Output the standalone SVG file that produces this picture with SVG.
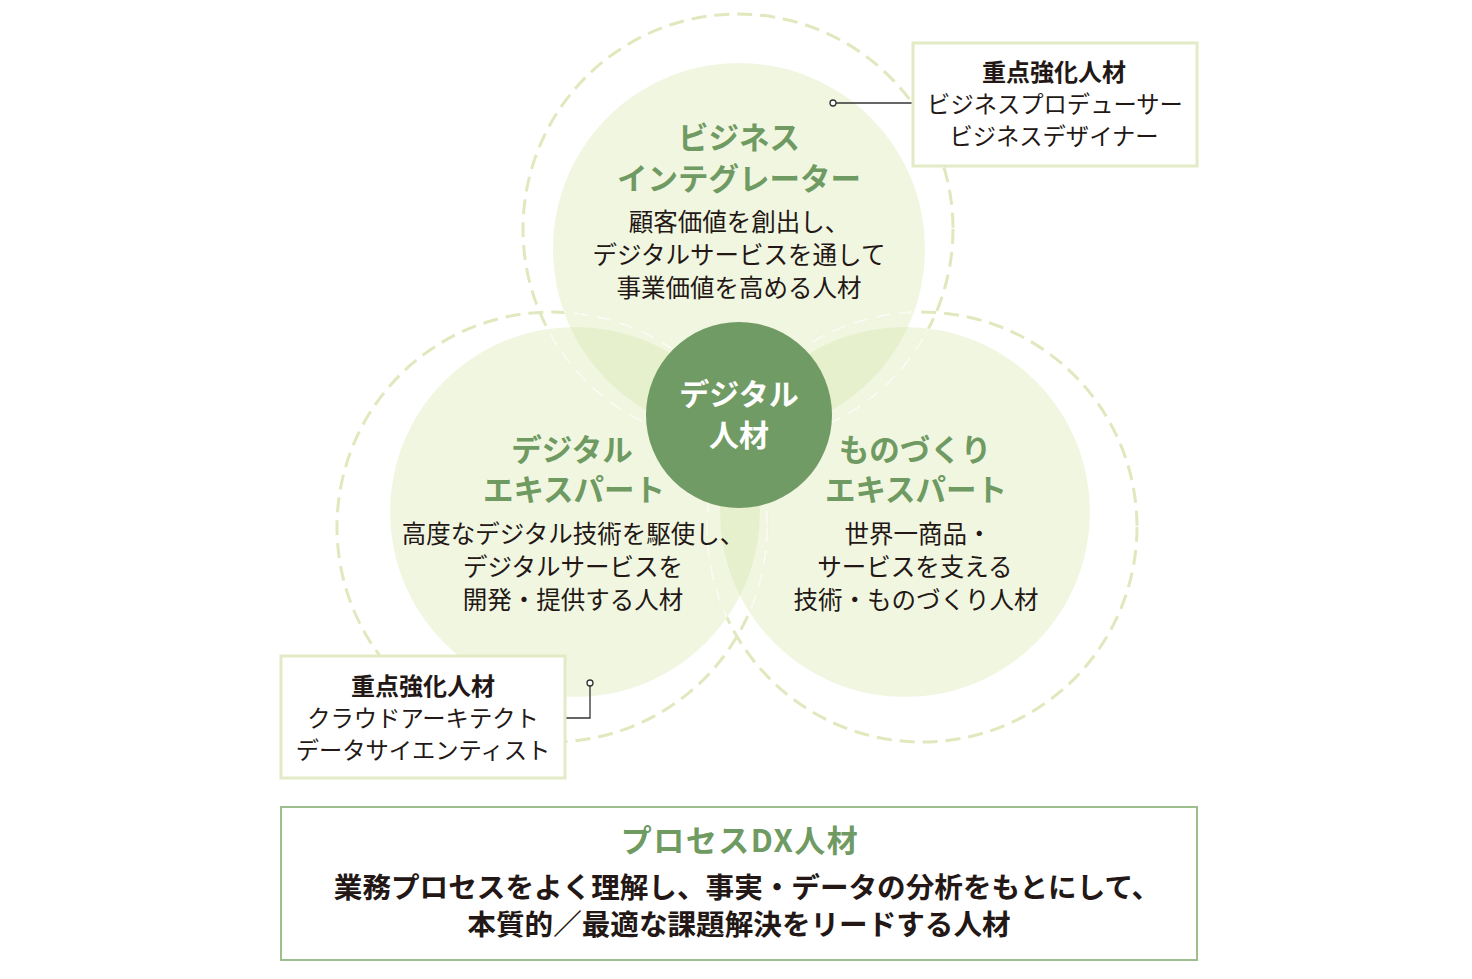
<svg xmlns="http://www.w3.org/2000/svg" width="1472" height="979" viewBox="0 0 1472 979">
<style>
.dash{fill:none;stroke:#dfe9bd;stroke-width:3;stroke-dasharray:15 8}
.dashlt{fill:none;stroke:#f8faef;stroke-width:3;stroke-dasharray:15 8}
.fill{fill:#d2e09c;fill-opacity:0.3}
.ttl{font-family:"Noto Sans CJK JP","Noto Sans",sans-serif;font-weight:700;font-size:30.5px;fill:#6f9a62;text-anchor:middle}
.desc{font-family:"Noto Sans CJK JP","Noto Sans",sans-serif;font-weight:400;font-size:24.5px;fill:#231815;text-anchor:middle}
.ctr{font-family:"Noto Sans CJK JP","Noto Sans",sans-serif;font-weight:700;font-size:30px;fill:#ffffff;text-anchor:middle}
.cb{font-family:"Noto Sans CJK JP","Noto Sans",sans-serif;font-weight:700;font-size:24px;fill:#231815;text-anchor:middle}
.cn{font-family:"Noto Sans CJK JP","Noto Sans",sans-serif;font-weight:400;font-size:23.3px;fill:#231815;text-anchor:middle}
.box{fill:#ffffff;stroke:#e2ebc6;stroke-width:3}
.bt{font-family:"Noto Sans CJK JP","Noto Sans",sans-serif;font-weight:700;font-size:31px;letter-spacing:1.5px;fill:#6f9a62;text-anchor:middle}
.bb{font-family:"Noto Sans CJK JP","Noto Sans",sans-serif;font-weight:700;font-size:28.6px;fill:#231815;text-anchor:middle}
.lead{fill:none;stroke:#333333;stroke-width:1.3}
.dot{fill:#ffffff;stroke:#333333;stroke-width:1.3}
</style>
<defs>
<circle id="dTop" cx="738" cy="229" r="215"/>
<circle id="dLeft" cx="552" cy="527" r="215"/>
<circle id="dRight" cx="922" cy="527" r="215"/>
<clipPath id="fills">
<circle cx="739" cy="249" r="186"/>
<circle cx="575" cy="512" r="185"/>
<circle cx="905" cy="512" r="185"/>
</clipPath>
</defs>
<rect width="1472" height="979" fill="#ffffff"/>
<g id="rings">
<use href="#dTop" class="dash"/>
<use href="#dLeft" class="dash"/>
<use href="#dRight" class="dash"/>
</g>
<g id="node-business">
<circle class="fill" cx="739" cy="249" r="186"/>
</g>
<g id="node-digital-expert">
<circle class="fill" cx="575" cy="512" r="185"/>
</g>
<g id="node-monozukuri">
<circle class="fill" cx="905" cy="512" r="185"/>
</g>
<g id="rings-inner" clip-path="url(#fills)">
<use href="#dTop" class="dashlt"/>
<use href="#dLeft" class="dashlt"/>
<use href="#dRight" class="dashlt"/>
</g>
<g id="node-business-text">
<text class="ttl" x="739" y="149">ビジネス</text>
<text class="ttl" x="739" y="190">インテグレーター</text>
<text class="desc" x="739" y="231">顧客価値を創出し、</text>
<text class="desc" x="739" y="264">デジタルサービスを通して</text>
<text class="desc" x="739" y="297">事業価値を高める人材</text>
</g>
<g id="node-digital-expert-text">
<text class="ttl" x="572" y="461">デジタル</text>
<text class="ttl" x="574" y="501">エキスパート</text>
<text class="desc" x="573" y="543">高度なデジタル技術を駆使し、</text>
<text class="desc" x="573" y="576">デジタルサービスを</text>
<text class="desc" x="573" y="609">開発・提供する人材</text>
</g>
<g id="node-monozukuri-text">
<text class="ttl" x="915" y="461">ものづくり</text>
<text class="ttl" x="916" y="501">エキスパート</text>
<text class="desc" x="918" y="543">世界一商品・</text>
<text class="desc" x="915" y="576">サービスを支える</text>
<text class="desc" x="916" y="609">技術・ものづくり人材</text>
</g>
<g id="node-digital-core">
<circle cx="739" cy="415" r="93" fill="#719b64"/>
<text class="ctr" x="739" y="405">デジタル</text>
<text class="ctr" x="739" y="446">人材</text>
</g>
<g id="connectors">
<line class="lead" x1="836" y1="103" x2="913" y2="103"/>
<circle class="dot" cx="833" cy="103" r="3"/>
<path class="lead" d="M590,686 V718 H566"/>
<circle class="dot" cx="590" cy="683" r="3"/>
</g>
<g id="callout-business">
<rect class="box" x="913" y="43" width="284" height="123"/>
<text class="cb" x="1054" y="81">重点強化人材</text>
<text class="cn" x="1055" y="113">ビジネスプロデューサー</text>
<text class="cn" x="1054" y="145">ビジネスデザイナー</text>
</g>
<g id="callout-digital">
<rect class="box" x="281" y="656" width="284" height="122"/>
<text class="cb" x="423" y="695">重点強化人材</text>
<text class="cn" x="423" y="727">クラウドアーキテクト</text>
<text class="cn" x="423" y="759">データサイエンティスト</text>
</g>
<g id="node-process-dx">
<rect x="281" y="807" width="916" height="153" fill="#ffffff" stroke="#9dbf8e" stroke-width="2"/>
<text class="bt" x="740" y="852">プロセスDX人材</text>
<text class="bb" x="747" y="898">業務プロセスをよく理解し、事実・データの分析をもとにして、</text>
<text class="bb" x="739" y="935">本質的／最適な課題解決をリードする人材</text>
</g>
</svg>
